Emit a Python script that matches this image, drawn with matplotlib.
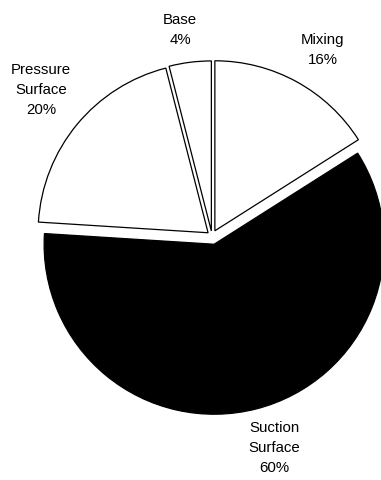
import matplotlib
matplotlib.use("Agg")
import matplotlib.pyplot as plt

# Data
categories = ["Mixing", "Suction\nSurface", "Pressure\nSurface", "Base"]
values = [16, 60, 20, 4]
colors = ["white", "black", "white", "white"]
explode = [0.035, 0.05, 0.03, 0.03]   # fraction of radius

W, H = 381, 481
fig = plt.figure(figsize=(W / 100, H / 100), dpi=100)
ax = fig.add_axes([0, 0, 1, 1])

cx, cy = 212, H - 237
radius = 170
wedges, _ = ax.pie(values, colors=colors, explode=[e * radius for e in explode],
                   startangle=90, counterclock=False, radius=radius,
                   center=(cx, cy), frame=True,
                   wedgeprops=dict(edgecolor="black", linewidth=0.9))
ax.set_xlim(0, W)
ax.set_ylim(0, H)
ax.set_aspect("equal")
ax.axis("off")

# label positions (pixel layout, top-left origin) for each category
label_pos = [(323, 50), (274, 448), (41, 90), (180, 30)]
for cat, v, (lx, ly) in zip(categories, values, label_pos):
    ax.text(lx, H - ly, f"{cat}\n{v}%", ha="center", va="center",
            fontsize=10.8, family="Liberation Sans", linespacing=1.58)

fig.savefig("out.png", dpi=100)
